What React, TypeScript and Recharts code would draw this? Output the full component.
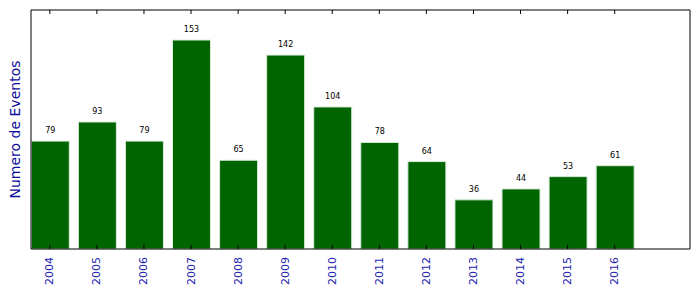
import React from "react";
import {
  BarChart,
  Bar,
  XAxis,
  YAxis,
  LabelList,
  ReferenceLine,
} from "recharts";

const years = ["2004", "2005", "2006", "2007", "2008", "2009", "2010", "2011", "2012", "2013", "2014", "2015", "2016"];
const eventos = [79, 93, 79, 153, 65, 142, 104, 78, 64, 36, 44, 53, 61];
const tickIdx = years.map((_, i) => i);

const data = years.map((y, i) => ({ idx: i, year: y, value: eventos[i] }));

const FONT = "DejaVu Sans, sans-serif";
const TICK_BLUE = "#2323b0";

// rotated year labels under the axis
const YearTick = (props: any) => {
  const { x, y, payload } = props;
  return (
    <text
      x={x}
      y={y}
      transform={`rotate(-90, ${x}, ${y})`}
      textAnchor="end"
      dominantBaseline="central"
      fontFamily={FONT}
      fontSize={11}
      fill={TICK_BLUE}
    >
      {years[payload.value]}
    </text>
  );
};

// inward tick on the top spine
const TopTick = (props: any) => {
  const { x, y } = props;
  return <line x1={x} y1={y} x2={x} y2={y + 4} stroke="#000" />;
};

export default function App() {
  return (
    <div style={{ position: "absolute", left: 0, top: 0, background: "#fff" }}>
      <BarChart
        width={699}
        height={293}
        data={data}
        margin={{ top: 9, right: 8, bottom: 0, left: 0 }}
      >
        <XAxis
          dataKey="idx"
          type="number"
          domain={[-0.4, 13.6]}
          ticks={tickIdx}
          interval={0}
          height={44}
          tickSize={0}
          tickMargin={8}
          tickLine={false}
          tick={<YearTick />}
          stroke="#000"
          allowDataOverflow
        />
        <XAxis
          xAxisId="top"
          dataKey="idx"
          type="number"
          orientation="top"
          domain={[-0.4, 13.6]}
          ticks={tickIdx}
          interval={0}
          height={1}
          tickSize={0}
          tickMargin={0}
          tickLine={false}
          tick={<TopTick />}
          stroke="#000"
          allowDataOverflow
        />
        <YAxis
          domain={[0, 175]}
          width={31}
          tick={false}
          tickLine={false}
          stroke="#000"
          label={{
            value: "Numero de Eventos",
            angle: -90,
            position: "center",
            fill: "#0c0c9c",
            fontSize: 14,
            fontFamily: FONT,
          }}
        />
        <YAxis
          yAxisId="right"
          orientation="right"
          domain={[0, 175]}
          width={1}
          tick={false}
          tickLine={false}
          stroke="#000"
        />
        <Bar
          dataKey="value"
          fill="#006400"
          stroke="#d8ecd8"
          strokeWidth={1}
          barSize={38}
          isAnimationActive={false}
        >
          <LabelList
            dataKey="value"
            position="top"
            offset={8}
            fontSize={8}
            fontFamily={FONT}
            fill="#000"
          />
        </Bar>
        {tickIdx.map((i) => (
          <ReferenceLine
            key={`bt-${i}`}
            segment={[{ x: i, y: 0 }, { x: i, y: 3 }]}
            stroke="#000"
            ifOverflow="visible"
          />
        ))}
      </BarChart>
    </div>
  );
}
